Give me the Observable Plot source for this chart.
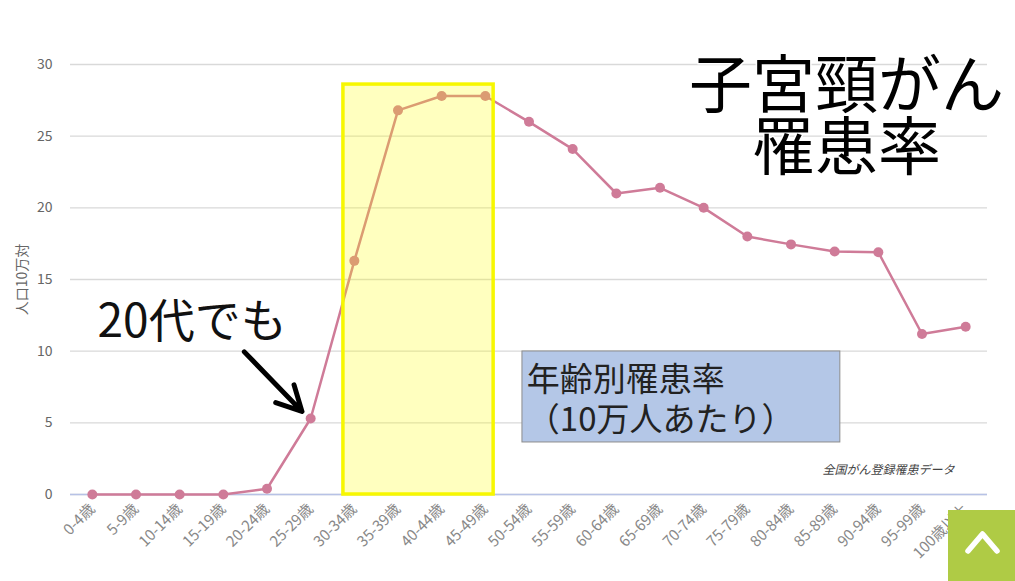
<!DOCTYPE html>
<html><head><meta charset="utf-8">
<script src="https://cdn.jsdelivr.net/npm/d3@7"></script>
<script src="https://cdn.jsdelivr.net/npm/@observablehq/plot@0.6"></script>
<style>
body{margin:0;background:#fff;}
#wrap{position:relative;width:1015px;height:581px;overflow:hidden;}
#totop{position:absolute;left:948px;top:510px;width:67px;height:71px;background:#afcb45;}
</style></head><body>
<div id="wrap"><div id="chart"></div>
<div id="totop"><svg width="67" height="71"><polyline points="20,41 34.5,24 49,41" fill="none" stroke="#fff" stroke-width="5.5" stroke-linecap="round" stroke-linejoin="round"/></svg></div>
</div>
<script>
const ages = ["0-4歳","5-9歳","10-14歳","15-19歳","20-24歳","25-29歳","30-34歳","35-39歳","40-44歳","45-49歳","50-54歳","55-59歳","60-64歳","65-69歳","70-74歳","75-79歳","80-84歳","85-89歳","90-94歳","95-99歳","100歳以上"];
const rates = [0.0,0.0,0.0,0.0,0.4,5.3,16.3,26.8,27.8,27.8,26.0,24.1,21.0,21.4,20.0,18.0,17.45,16.95,16.9,11.2,11.7];
const yTicks = [0,5,10,15,20,25,30];
const titleText = "子宮頸がん\n罹患率";
const calloutText = "20代でも";
const legendText = "年齢別罹患率\n（10万人あたり）";
const sourceText = "全国がん登録罹患データ";
const yLabel = "人口10万対";

const font = "'Noto Sans CJK JP','Noto Sans',sans-serif";
const data = ages.map((a, i) => ({i, age: a, rate: rates[i]}));
const pink = "#cf7b98";

const chart = Plot.plot({
  width: 1015, height: 581,
  marginLeft: 70, marginRight: 28, marginTop: 64, marginBottom: 87,
  style: {fontFamily: font, background: "#fff", overflow: "visible"},
  x: {domain: [-0.5, ages.length - 0.5]},
  y: {domain: [0, 30]},
  marks: [
    Plot.gridY(yTicks, {stroke: "#d9d9d9", strokeOpacity: 1, strokeWidth: 1.3}),
    Plot.ruleY([0], {stroke: "#b7c2e6", strokeWidth: 1.5}),
    Plot.axisY(yTicks, {tickSize: 0, tickPadding: 18, fontSize: 14, fill: "#666",
      label: yLabel, labelAnchor: "center", labelOffset: 53, labelArrow: "none"}),
    Plot.axisX(d3.range(ages.length), {tickFormat: i => ages[i], tickRotate: -45, tickSize: 0,
      tickPadding: 12, fontSize: 15, fill: "#888", label: null}),
    Plot.line(data, {x: "i", y: "rate", stroke: pink, strokeWidth: 2.5}),
    Plot.dot(data, {x: "i", y: "rate", r: 5, fill: pink}),
    Plot.rect([{x1: 5.75, x2: 9.19, y1: 0, y2: 28.6}], {x1: "x1", x2: "x2", y1: "y1", y2: "y2",
      fill: "#ffff00", fillOpacity: 0.25, stroke: "#f7f700", strokeWidth: 3.5}),
    Plot.rect([{x1: 9.85, x2: 17.13, y1: 3.63, y2: 9.98}], {x1: "x1", x2: "x2", y1: "y1", y2: "y2",
      fill: "#b4c7e7", stroke: "#8c8c8c", strokeWidth: 1}),
    Plot.text([legendText], {x: 9.95, y: 6.7, text: d => d, textAnchor: "start",
      fontSize: 33, lineHeight: 1.21, fill: "#222"}),
    Plot.text([sourceText], {x: 16.72, y: 1.67, text: d => d, textAnchor: "start", fontSize: 12,
      fill: "#444", fontStyle: "italic"}),
    Plot.text([calloutText], {x: 0.12, y: 12.0, text: d => d, textAnchor: "start", fontSize: 46, fill: "#111"}),
    Plot.arrow([{x1: 3.48, y1: 9.95, x2: 4.8, y2: 5.8}], {x1: "x1", y1: "y1", x2: "x2", y2: "y2",
      stroke: "#000", strokeWidth: 5, headLength: 22, headAngle: 55}),
    Plot.text([titleText], {x: 17.27, y: 26.24, text: d => d, fontSize: 63, lineHeight: 0.985,
      fill: "#000", stroke: "#fff", strokeWidth: 3})
  ]
});
document.getElementById("chart").appendChild(chart);
</script>
</body></html>
